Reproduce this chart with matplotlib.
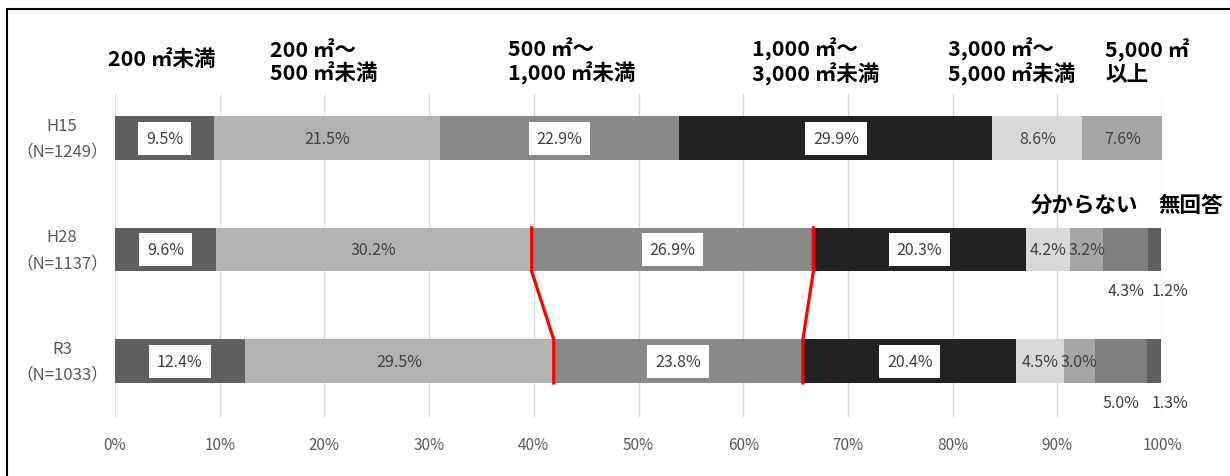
import matplotlib.pyplot as plt
import matplotlib.patches as mpatches
import numpy as np

plt.rcParams['font.family'] = ['Noto Sans CJK JP', 'DejaVu Sans']

# data
surveys = ["H15\n（N=1249）", "H28\n（N=1137）", "R3\n（N=1033）"]
cats = ["200 ㎡未満", "200 ㎡～\n500 ㎡未満", "500 ㎡～\n1,000 ㎡未満",
        "1,000 ㎡～\n3,000 ㎡未満", "3,000 ㎡～\n5,000 ㎡未満", "5,000 ㎡\n以上",
        "分からない", "無回答"]
h15 = [9.5, 21.5, 22.9, 29.9, 8.6, 7.6, 0.0, 0.0]
h28 = [9.6, 30.2, 26.9, 20.3, 4.2, 3.2, 4.3, 1.2]
r3 = [12.4, 29.5, 23.8, 20.4, 4.5, 3.0, 5.0, 1.3]
values = np.array([h15, h28, r3])

colors = ["#5f5f5f", "#b2b2b2", "#898989", "#222222", "#d9d9d9", "#a6a6a6", "#7f7f7f", "#5f5f5f"]
boxed = [True, False, True, True, False, False, False, False]

W, H = 1230, 477
fig = plt.figure(figsize=(W / 100, H / 100), dpi=100)
ax = fig.add_axes([115 / W, 1 - 418 / H, (1162 - 115) / W, (418 - 95) / H])

ys = np.arange(len(surveys))
bar_h = 0.39
fs = 11.5
left = np.zeros(len(surveys))
for j in range(len(cats)):
    vals = values[:, j]
    ax.barh(ys, vals, left=left, height=bar_h, color=colors[j], zorder=2)
    for i, v in enumerate(vals):
        if v <= 0:
            continue
        lbl = f"{v:.1f}%"
        if j >= 6:
            # small segments labelled under the bar
            lx = left[i] + v / 2 if j == 6 else 100.8
            ax.text(lx, ys[i] + 0.37, lbl, ha="center", va="center", fontsize=fs,
                    color="#404040", clip_on=False)
        elif boxed[j]:
            ax.text(left[i] + v / 2, ys[i], lbl, ha="center", va="center", fontsize=fs,
                    color="#404040", zorder=4,
                    bbox=dict(boxstyle="square,pad=0.5", fc="white", ec="none"))
        else:
            ax.text(left[i] + v / 2, ys[i], lbl, ha="center", va="center", fontsize=fs,
                    color="#404040", zorder=4)
    left += vals

# red connector lines between H28 and R3
cum = np.cumsum(values, axis=1)
for k in [1, 2]:
    x28, x3 = cum[1, k], cum[2, k]
    xs = [x28, x28, x3, x3]
    yy = [1 - bar_h / 2, 1 + bar_h / 2, 2 - bar_h / 2, 2 + bar_h / 2]
    ax.plot(xs, yy, color="red", lw=2.3, zorder=5, solid_joinstyle="miter")

ax.set_xlim(0, 100)
ax.set_ylim(2.5, -0.395)
ax.set_xticks(np.arange(0, 101, 10))
ax.set_xticklabels([f"{t}%" for t in range(0, 101, 10)], fontsize=11, color="#595959")
ax.set_yticks([])
for y, s in zip(ys, surveys):
    ax.text(-53 / 1047, y, s, transform=ax.get_yaxis_transform(), ha="center", va="center",
            fontsize=12, color="#595959", linespacing=1.7)
ax.tick_params(axis="x", length=0, pad=14)
ax.grid(axis="x", color="#d9d9d9", lw=1, zorder=0)
for s in ax.spines.values():
    s.set_visible(False)

# headers above the bars
head_x = [108, 270, 508, 752, 948, 1105]
for x, c in zip(head_x, cats[:6]):
    yc = 60 if "\n" not in c else 62
    fig.text(x / W, 1 - yc / H, c, ha="left", va="center", fontsize=15.5,
             fontweight="bold", linespacing=1.1)
fig.text(1031 / W, 1 - 205 / H, cats[6], ha="left", va="center", fontsize=15.5, fontweight="bold")
fig.text(1158 / W, 1 - 205 / H, cats[7], ha="left", va="center", fontsize=15.5, fontweight="bold")

# outer frame
fig.patches.append(mpatches.Rectangle((7 / W, -0.1), 1.2, 1.1 - 10 / H, transform=fig.transFigure,
                                      fill=False, ec="black", lw=1.5))

fig.savefig("out.png", dpi=100)
